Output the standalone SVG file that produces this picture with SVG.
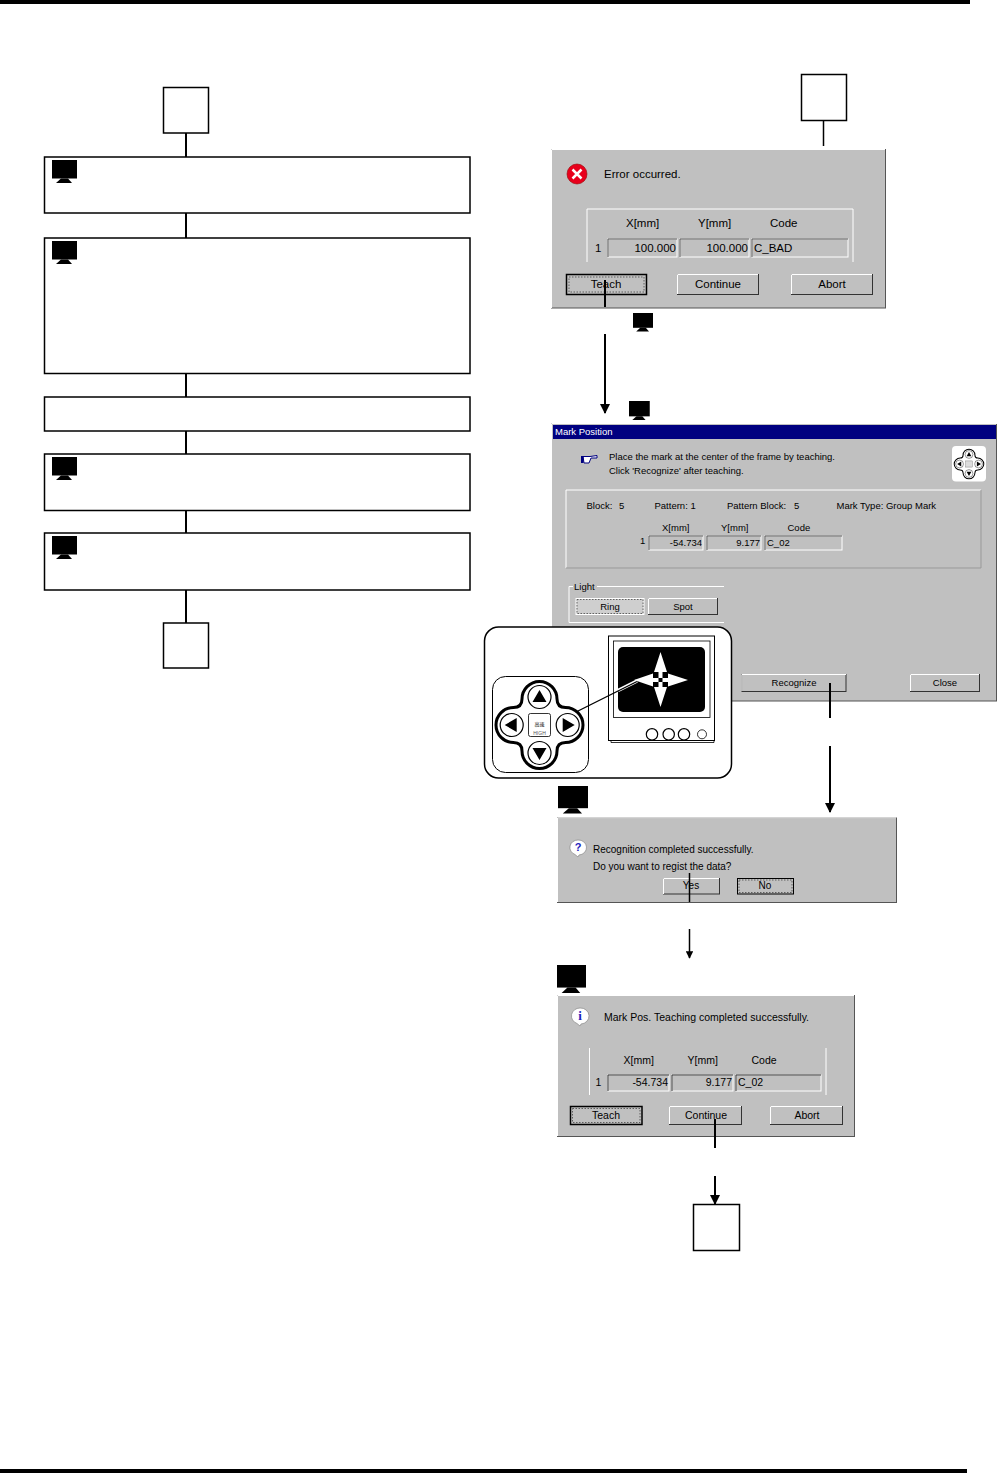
<svg xmlns="http://www.w3.org/2000/svg" width="997" height="1473" viewBox="0 0 997 1473">
<style>
text{font-family:"Liberation Sans",Arial,sans-serif;fill:#000}
.t115{font-size:11.500px}.t105{font-size:10.500px}.t10{font-size:10px}.t95{font-size:9.500px}
.box{fill:#fff;stroke:#000;stroke-width:1.500}
.dlg{fill:#c0c0c0;stroke:#555;stroke-width:1}
.btn{fill:#c0c0c0;stroke:#333;stroke-width:1}
.fld{fill:#c0c0c0;stroke:#fff;stroke-width:1}
.ln{fill:none;stroke:#fff;stroke-width:1}
.con{fill:none;stroke:#000;stroke-width:2}
.foc{fill:none;stroke:#333;stroke-width:.7;stroke-dasharray:1.500 1.500}
.pk{fill:#fff;stroke:#000;stroke-width:1.200}
</style>
<defs>
<g id="mon"><rect x="0" y="0" width="25" height="18.500" fill="#000"/><path d="M9 18.500H16L20 23H4Z" fill="#000"/></g>
<marker id="arr" viewBox="0 0 10 10" refX="9" refY="5" markerWidth="5" markerHeight="5" markerUnits="strokeWidth" orient="auto"><path d="M0 0L10 5L0 10Z" fill="#000"/></marker>
<g id="pad">
<path d="M522 699A17.500 17.500 0 0 1 557 699Q557 707.500 565.500 707.500A17.500 17.500 0 0 1 565.500 742.500Q557 742.500 557 751A17.500 17.500 0 0 1 522 751Q522 742.500 513.500 742.500A17.500 17.500 0 0 1 513.500 707.500Q522 707.500 522 699Z" fill="#fff" stroke="#000" stroke-width="3"/>
<circle class="pk" cx="539.500" cy="697" r="11.500"/><circle class="pk" cx="539.500" cy="753" r="11.500"/><circle class="pk" cx="511.700" cy="725" r="11.500"/><circle class="pk" cx="567.700" cy="725" r="11.500"/>
<path d="M539.500 690L546.500 702H532.500ZM539.500 760L546.500 748H532.500ZM504.700 725L516.700 718V732ZM574.700 725L562.700 718V732Z" fill="#000"/>
</g>
</defs>
<rect width="997" height="1473" fill="#fff"/>
<rect id="rule-top" x="0" y="0" width="970" height="4" fill="#000"/>
<rect id="rule-bottom" x="0" y="1469" width="967" height="4" fill="#000"/>

<g id="connectors-left">
<path class="con" d="M186 133V157M186 213V238M186 373V397M186 431V454M186 510V533M186 590V623"/>
</g>
<g id="start-left"><rect class="box" x="163.500" y="87.500" width="45" height="45.500"/></g>
<g id="step1"><rect class="box" x="44.500" y="157" width="425.500" height="56"/><use href="#mon" x="52" y="160"/></g>
<g id="step2"><rect class="box" x="44.500" y="238" width="425.500" height="135.500"/><use href="#mon" x="52" y="241"/></g>
<g id="step3"><rect class="box" x="44.500" y="397" width="425.500" height="34"/></g>
<g id="step4"><rect class="box" x="44.500" y="454" width="425.500" height="56.500"/><use href="#mon" x="52" y="457"/></g>
<g id="step5"><rect class="box" x="44.500" y="533" width="425.500" height="57"/><use href="#mon" x="52" y="536"/></g>
<g id="end-left"><rect class="box" x="163.500" y="623" width="45" height="45"/></g>

<g id="start-right"><rect class="box" x="801.500" y="74.500" width="45" height="46"/></g>

<g id="dialog-error">
<rect class="dlg" x="551.500" y="149.500" width="334" height="158.500"/>
<path class="ln" d="M551.500 308V149.500H885"/>
<circle cx="577" cy="174" r="10" fill="#e8001c" stroke="#900" stroke-width=".6"/>
<path d="M572.500 169.500L581.500 178.500M581.500 169.500L572.500 178.500" stroke="#fff" stroke-width="2.500"/>
<text class="t115" x="604" y="178">Error occurred.</text>
<path class="ln" d="M587 262V209H853V262"/>
<text class="t115" x="626" y="227">X[mm]</text><text class="t115" x="698" y="227">Y[mm]</text><text class="t115" x="770" y="227">Code</text>
<text class="t115" x="595" y="252">1</text>
<rect class="fld" x="608" y="239" width="69" height="18"/><path d="M608 257V239H677" fill="none" stroke="#555"/>
<text class="t115" x="676" y="252" text-anchor="end">100.000</text>
<rect class="fld" x="680" y="239" width="69" height="18"/><path d="M680 257V239H749" fill="none" stroke="#555"/>
<text class="t115" x="748" y="252" text-anchor="end">100.000</text>
<rect class="fld" x="752" y="239" width="96" height="18"/><path d="M752 257V239H848" fill="none" stroke="#555"/>
<text class="t115" x="754" y="252">C_BAD</text>
<rect class="btn" x="566.500" y="274.500" width="80" height="20" style="stroke:#000;stroke-width:1.500"/><rect class="foc" x="569" y="277" width="75" height="15"/>
<text class="t115" x="606" y="288" text-anchor="middle">Teach</text>
<rect class="btn" x="677.500" y="274.500" width="81" height="20"/><path class="ln" d="M677.500 294V274.500H758"/>
<text class="t115" x="718" y="288" text-anchor="middle">Continue</text>
<rect class="btn" x="791.500" y="274.500" width="81" height="20"/><path class="ln" d="M791.500 294V274.500H872"/>
<text class="t115" x="832" y="288" text-anchor="middle">Abort</text>
</g>
<g id="mon-a" transform="translate(633 313) scale(.8)"><use href="#mon"/></g>
<g id="mon-b" transform="translate(629 401) scale(.83)"><use href="#mon"/></g>

<g id="dialog-mark">
<rect class="dlg" x="551.500" y="423.500" width="445" height="277.500"/>
<path class="ln" d="M551.500 701V423.500H997"/>
<rect x="553" y="425" width="443" height="14" fill="#000080"/>
<text class="t95" x="555" y="435" style="fill:#fff">Mark Position</text>
<path d="M583 456.500H590L597 455.500V458H591L589 463H584Z" fill="#fff" stroke="#000080" stroke-width="1"/>
<rect x="581" y="456" width="2.500" height="7" fill="#000080"/>
<text class="t95" x="609" y="460">Place the mark at the center of the frame by teaching.</text>
<text class="t95" x="609" y="474">Click 'Recognize' after teaching.</text>
<rect x="952" y="446" width="34" height="35.500" rx="4" fill="#fff"/>
<g transform="translate(969 464) scale(.34) translate(-539.500 -725)"><use href="#pad"/><rect x="530" y="716" width="19" height="18" fill="#ddd" stroke="#555"/></g>
<path class="ln" d="M566 568V490H981"/><path d="M566 568H981V490" fill="none" stroke="#999"/>
<text class="t95" x="586.500" y="509">Block:</text><text class="t95" x="619" y="509">5</text>
<text class="t95" x="654.500" y="509">Pattern: 1</text>
<text class="t95" x="727" y="509">Pattern Block:</text><text class="t95" x="794" y="509">5</text>
<text class="t95" x="836.500" y="509">Mark Type: Group Mark</text>
<text class="t95" x="662" y="531">X[mm]</text><text class="t95" x="721" y="531">Y[mm]</text><text class="t95" x="787.500" y="531">Code</text>
<text class="t95" x="640" y="544">1</text>
<rect class="fld" x="649" y="536" width="54" height="14"/><path d="M649 550V536H703" fill="none" stroke="#555"/>
<text class="t95" x="702" y="546" text-anchor="end">-54.734</text>
<rect class="fld" x="707" y="536" width="54" height="14"/><path d="M707 550V536H761" fill="none" stroke="#555"/>
<text class="t95" x="760" y="546" text-anchor="end">9.177</text>
<rect class="fld" x="765" y="536" width="77" height="14"/><path d="M765 550V536H842" fill="none" stroke="#555"/>
<text class="t95" x="767" y="546">C_02</text>
<path class="ln" d="M569 622.500V586.500H573M597 586.500H724"/><path class="ln" d="M569 622.500H724"/>
<text class="t95" x="574" y="590">Light</text>
<rect x="576" y="598.500" width="68" height="16" fill="#cfcfcf" stroke="#fff"/><rect class="foc" x="577" y="599.500" width="66" height="14"/>
<text class="t95" x="610" y="610" text-anchor="middle">Ring</text>
<rect class="btn" x="648.500" y="598.500" width="69" height="16"/><path class="ln" d="M648.500 614V598.500H717"/>
<text class="t95" x="683" y="610" text-anchor="middle">Spot</text>
<rect class="btn" x="742" y="674.500" width="104" height="17"/><path class="ln" d="M742 691V674.500H846"/>
<text class="t95" x="794" y="686" text-anchor="middle">Recognize</text>
<rect class="btn" x="910.500" y="674.500" width="69" height="17"/><path class="ln" d="M910.500 691V674.500H979"/>
<text class="t95" x="945" y="686" text-anchor="middle">Close</text>
</g>

<g id="inset">
<rect x="484.500" y="627" width="247" height="151" rx="14" fill="#fff" stroke="#000" stroke-width="1.500"/>
<rect x="492.500" y="676.500" width="96" height="96" rx="13" fill="#fff" stroke="#000" stroke-width="1"/>
<use href="#pad"/>
<rect x="528.500" y="713.500" width="22" height="23" rx="2" fill="#fff" stroke="#000" stroke-width=".8"/>
<text x="539.500" y="726" text-anchor="middle" style="font-family:'Noto Sans CJK SC',sans-serif;font-size:5px">高速</text>
<text x="539.500" y="735" text-anchor="middle" style="font-size:5px;fill:#555">HIGH</text>
<rect x="608.500" y="636" width="106" height="104.500" fill="#fff" stroke="#000" stroke-width="1"/>
<rect x="613.500" y="641" width="96.500" height="76.500" fill="#fff" stroke="#000" stroke-width=".8"/>
<path d="M611 740.500V742.500H714V740.500" fill="none" stroke="#000" stroke-width=".8"/>
<rect x="618" y="647" width="87" height="65" rx="5" fill="#000"/>
<path d="M660.500 652L667 672H654ZM660.500 707L667 687H654ZM634 680L653 673.500V686.500ZM688 680L668 673.500V686.500Z" fill="#fff"/>
<path d="M658.500 668V692H662.500V668ZM649 678H672V682H649Z" fill="#fff"/>
<path d="M618 690.500L637 681" stroke="#fff" stroke-width="3.500" fill="none"/>
<path d="M577 711.500L637 681.500" stroke="#000" stroke-width="1.300" fill="none"/>
<circle cx="652" cy="734.300" r="5.700" fill="#fff" stroke="#000" stroke-width="1.200"/><circle cx="668.700" cy="734.300" r="5.700" fill="#fff" stroke="#000" stroke-width="1.200"/><circle cx="684" cy="734.300" r="5.700" fill="#fff" stroke="#000" stroke-width="1.200"/><circle cx="702" cy="734.300" r="4.500" fill="#fff" stroke="#000" stroke-width=".8"/>
</g>

<g id="mon-c" transform="translate(558 786) scale(1.200)"><use href="#mon"/></g>

<g id="dialog-recog">
<rect class="dlg" x="557.500" y="818" width="339" height="84.500"/>
<path class="ln" d="M557.500 902V818H896"/>
<path d="M578 840A8 7.500 0 1 1 579 855L578 857L575 854.500A8 7.500 0 0 1 578 840Z" fill="#fff" stroke="#888" stroke-width=".7"/>
<text x="578" y="851" text-anchor="middle" style="font-size:11px;font-weight:bold;fill:#22b">?</text>
<text class="t10" x="593" y="853">Recognition completed successfully.</text>
<text class="t10" x="593" y="870">Do you want to regist the data?</text>
<rect class="btn" x="663.500" y="878.500" width="56" height="15.500"/><path class="ln" d="M663.500 894V878.500H719"/>
<text class="t10" x="691" y="889" text-anchor="middle">Yes</text>
<rect class="btn" x="737.500" y="878.500" width="56" height="15.500" style="stroke:#000"/><rect class="foc" x="739" y="880" width="53" height="12.500"/>
<text class="t10" x="765" y="889" text-anchor="middle">No</text>
</g>

<g id="mon-d" transform="translate(557 965) scale(1.160 1.220)"><use href="#mon"/></g>

<g id="dialog-done">
<rect class="dlg" x="557.500" y="995.500" width="297" height="141"/>
<path class="ln" d="M557.500 1136V995.500H854"/>
<path d="M580 1008A8.500 8 0 1 1 581 1024L580 1026L577 1023.500A8.500 8 0 0 1 580 1008Z" fill="#fff" stroke="#888" stroke-width=".7"/>
<text x="580" y="1020" text-anchor="middle" style="font-size:13px;font-weight:bold;fill:#22b;font-family:'Liberation Serif',serif">i</text>
<text class="t105" x="604" y="1021">Mark Pos. Teaching completed successfully.</text>
<path class="ln" d="M589.500 1048V1095M826 1048V1095"/>
<text class="t105" x="623.500" y="1064">X[mm]</text><text class="t105" x="687.500" y="1064">Y[mm]</text><text class="t105" x="751.500" y="1064">Code</text>
<text class="t105" x="595.500" y="1086">1</text>
<rect class="fld" x="608" y="1075" width="61" height="16"/><path d="M608 1091V1075H669" fill="none" stroke="#333"/>
<text class="t105" x="668" y="1086" text-anchor="end">-54.734</text>
<rect class="fld" x="672" y="1075" width="61" height="16"/><path d="M672 1091V1075H733" fill="none" stroke="#333"/>
<text class="t105" x="732" y="1086" text-anchor="end">9.177</text>
<rect class="fld" x="736" y="1075" width="85" height="16"/><path d="M736 1091V1075H821" fill="none" stroke="#333"/>
<text class="t105" x="738" y="1086">C_02</text>
<rect class="btn" x="570.500" y="1106.500" width="71.500" height="18" style="stroke:#000;stroke-width:1.500"/><rect class="foc" x="572.500" y="1108.500" width="67.500" height="14"/>
<text class="t105" x="606" y="1118.500" text-anchor="middle">Teach</text>
<rect class="btn" x="669.500" y="1106.500" width="72" height="18"/><path class="ln" d="M669.500 1124V1106.500H741"/>
<text class="t105" x="706" y="1118.500" text-anchor="middle">Continue</text>
<rect class="btn" x="770.500" y="1106.500" width="72" height="18"/><path class="ln" d="M770.500 1124V1106.500H842"/>
<text class="t105" x="807" y="1118.500" text-anchor="middle">Abort</text>
</g>

<g id="end-right"><rect class="box" x="693.500" y="1204.500" width="46" height="46"/></g>

<g id="connectors-right">
<path class="con" style="stroke-width:1.500" d="M823.500 121V146"/>
<path class="con" d="M605 280V307"/>
<path class="con" d="M605 334V413" marker-end="url(#arr)"/>
<path class="con" d="M830 683V718"/>
<path class="con" d="M830 746V812" marker-end="url(#arr)"/>
<path class="con" style="stroke-width:1.500" d="M689.500 873V902"/>
<path class="con" style="stroke-width:1.500" d="M689.500 929V958" marker-end="url(#arr)"/>
<path class="con" d="M715 1119V1148"/>
<path class="con" d="M715 1176V1204" marker-end="url(#arr)"/>
</g>
</svg>
